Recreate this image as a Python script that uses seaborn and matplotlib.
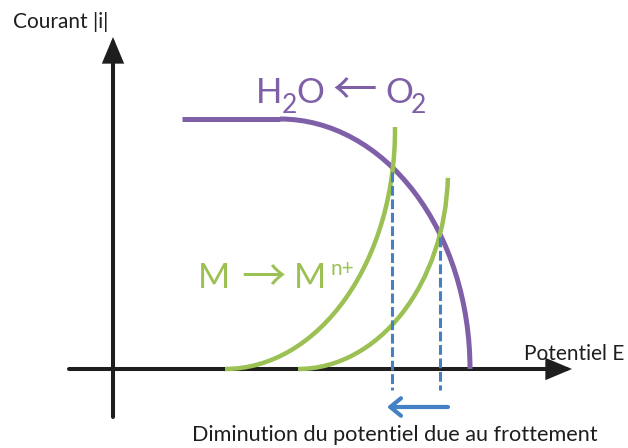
import matplotlib
matplotlib.use("Agg")
import matplotlib.pyplot as plt
from matplotlib.patches import Arc
import pandas as pd
import seaborn as sns

sns.set_theme(style="white")
plt.rcParams['font.family'] = ['Lato', 'DejaVu Sans']

# Figure drawn in pixel units (x to the right, y downward)
W, H = 628, 448

# Plateau of the O2 reduction wave (limiting current)
o2_plateau_x = [182, 280]
o2_plateau_y = [119, 119]

# Elliptic arcs of the waves: centre x, centre y, half width, half height,
# start angle, end angle (degrees)
waves = {
    'O2': dict(cx=280, cy=369, rx=190, ry=250, t1=270, t2=360),   # H2O <- O2
    'M1': dict(cx=225, cy=130, rx=170, ry=239, t1=-1, t2=90),     # M -> Mn+
    'M2': dict(cx=298, cy=170, rx=150, ry=199, t1=3, t2=90),      # M -> Mn+ (friction)
}

# Corrosion potentials (dashed drop lines)
ecorr_x = [392, 440]
ecorr_top = [172, 237]
ecorr_bottom = 390

PURPLE = '#7f60a8'
GREEN = '#9bc053'
BLUE = '#4480c4'
INK = '#1e1e1e'

fig = plt.figure(figsize=(W / 100, H / 100), dpi=100)
ax = fig.add_axes([0, 0, 1, 1])
ax.set_xlim(0, W)
ax.set_ylim(H, 0)
ax.axis('off')

# Axes with arrows
axis_arrow = dict(arrowstyle='-|>,head_length=1.0,head_width=0.42', color=INK,
                  lw=2.9, shrinkA=0, shrinkB=0, mutation_scale=14,
                  joinstyle='miter')
ax.annotate('', xy=(113, 37), xytext=(113, 417), arrowprops=axis_arrow, zorder=1)
ax.annotate('', xy=(572, 369), xytext=(69, 369), arrowprops=axis_arrow, zorder=1)

# Polarisation curves
plateau = pd.DataFrame({'x': o2_plateau_x, 'y': o2_plateau_y})
sns.lineplot(data=plateau, x='x', y='y', sort=False, estimator=None,
             color=PURPLE, lw=3.6, ax=ax, zorder=2, solid_capstyle='butt')

styles = {'O2': (PURPLE, 3.6, 2), 'M1': (GREEN, 3.2, 3), 'M2': (GREEN, 3.2, 3)}
for name, w in waves.items():
    color, lw, z = styles[name]
    ax.add_patch(Arc((w['cx'], w['cy']), 2 * w['rx'], 2 * w['ry'],
                     theta1=w['t1'], theta2=w['t2'], color=color, lw=lw,
                     zorder=z, capstyle='butt'))

# Dashed drop lines at the intersections
for xv, yt in zip(ecorr_x, ecorr_top):
    drop = pd.DataFrame({'x': [xv, xv], 'y': [yt, ecorr_bottom]})
    sns.lineplot(data=drop, x='x', y='y', sort=False, estimator=None,
                 color=BLUE, lw=2.2, ax=ax, zorder=4,
                 linestyle=(0, (3.2, 1.2)))

# Shift of the corrosion potential
ax.annotate('', xy=(387, 407), xytext=(448, 407),
            arrowprops=dict(arrowstyle='->,head_length=0.55,head_width=0.45',
                            color=BLUE, lw=3, shrinkA=0, shrinkB=0,
                            mutation_scale=14),
            zorder=4)

# Labels
ax.text(13, 28, 'Courant |i|', fontsize=15, color=INK, va='baseline', ha='left')
ax.text(524, 360, 'Potentiel E', fontsize=15, color=INK, va='baseline', ha='left')
ax.text(192, 441, 'Diminution du potentiel due au frottement', fontsize=15.6,
        color=INK, va='baseline', ha='left')

big = 25
sub = 19
ax.text(256, 103, 'H', fontsize=big, color=PURPLE, va='baseline')
ax.text(282, 113, '2', fontsize=sub, color=PURPLE, va='baseline')
ax.text(296, 103, 'O', fontsize=big, color=PURPLE, va='baseline')
ax.text(355, 91, '←', fontsize=32, color=PURPLE, va='center', ha='center',
        family=['Noto Sans CJK SC'], fontweight='medium')
ax.text(385, 103, 'O', fontsize=big, color=PURPLE, va='baseline')
ax.text(411, 113, '2', fontsize=sub, color=PURPLE, va='baseline')

ax.text(198, 288, 'M', fontsize=big, color=GREEN, va='baseline')
ax.text(263, 278, '→', fontsize=32, color=GREEN, va='center', ha='center',
        family=['Noto Sans CJK SC'], fontweight='medium')
ax.text(294, 288, 'M', fontsize=big, color=GREEN, va='baseline')
ax.text(331, 275, 'n+', fontsize=15, color=GREEN, va='baseline')

fig.savefig('out.png', dpi=100)
